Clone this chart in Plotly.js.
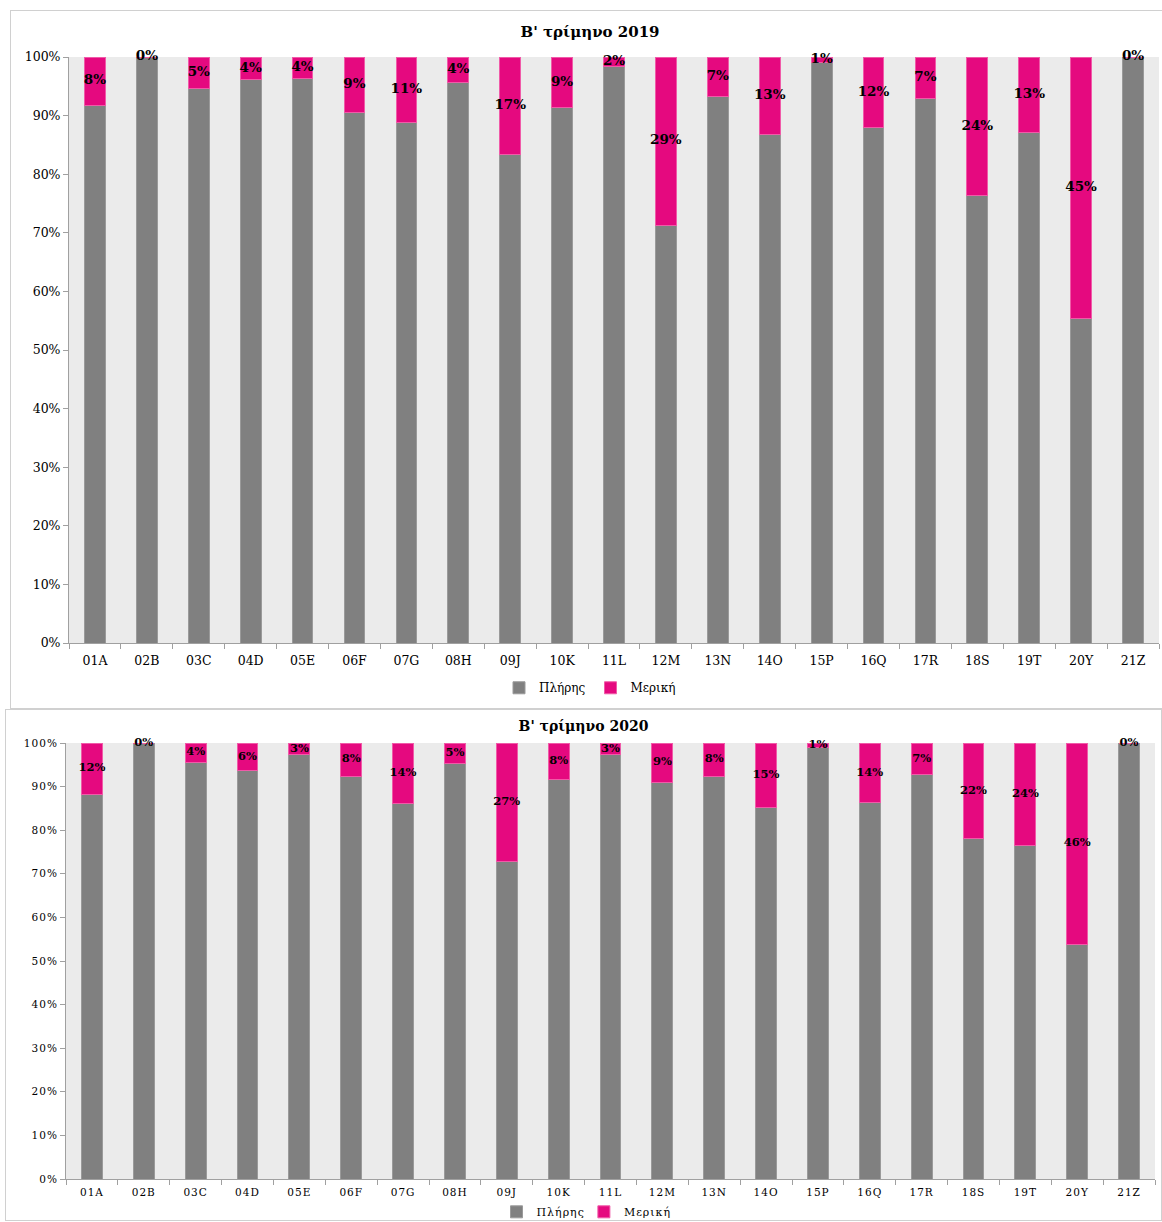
<!DOCTYPE html>
<html>
<head>
<meta charset="utf-8">
<script src="https://cdn.plot.ly/plotly-3.0.1.min.js"></script>
<style>
  html, body { margin:0; padding:0; background:#fff; }
  #c1 { position:absolute; left:10px; top:10px; width:1160px; height:699px; border:1px solid #d0d0d0; box-sizing:border-box; }
  #c2 { position:absolute; left:5px; top:709px; width:1157px; height:512px; border:1px solid #d0d0d0; box-sizing:border-box; }
  #c2 .xtick text, #c2 .ytick text, #c2 .legendtext { letter-spacing: 1px; }
</style>
</head>
<body>
<div id="c1"></div>
<div id="c2"></div>
<script>
// ---- Data ----
const categories = ["01A","02B","03C","04D","05E","06F","07G","08H","09J","10K","11L","12M","13N","14O","15P","16Q","17R","18S","19T","20Y","21Z"];

const full2019    = [91.8,100,94.6,96.2,96.4,90.6,88.9,95.6,83.4,91.4,98.3,71.3,93.3,86.7,99.0,87.9,93.0,76.3,87.2,55.3,100];
const partial2019 = [8.2,0,5.4,3.8,3.6,9.4,11.1,4.4,16.6,8.6,1.7,28.7,6.7,13.3,1.0,12.1,7.0,23.7,12.8,44.7,0];

const full2020    = [88.3,100,95.6,93.6,97.3,92.4,86.2,95.2,72.9,91.7,97.3,91.0,92.4,85.3,99.0,86.4,92.7,78.0,76.4,53.9,100];
const partial2020 = [11.7,0,4.4,6.4,2.7,7.6,13.8,4.8,27.1,8.3,2.7,9.0,7.6,14.7,1.0,13.6,7.3,22.0,23.6,46.1,0];

const seriesNames = ["Πλήρης","Μερική"];
const titles = ["Β' τρίμηνο 2019","Β' τρίμηνο 2020"];
const yTicks = [0,10,20,30,40,50,60,70,80,90,100];
const yTickLabels = ["0%","10%","20%","30%","40%","50%","60%","70%","80%","90%","100%"];

const GRAY = "#808080", MAG = "#e5097f";
const SERIF = "DejaVu Serif, Liberation Serif, serif";

function makeChart(div, full, partial, title, opts) {
  const traces = [
    {type:"bar", name:seriesNames[0], x:categories, y:full, marker:{color:GRAY, line:{color:"#9a9a9a", width:1}}, hoverinfo:"skip"},
    {type:"bar", name:seriesNames[1], x:categories, y:partial, marker:{color:MAG, line:{color:"#f05aa8", width:1}}, hoverinfo:"skip"},
    {type:"scatter", mode:"text", x:categories, y:full.map((f,i)=>f+partial[i]/2),
     text:partial.map(p=>Math.round(p)+"%"), textposition:"middle center",
     textfont:{family:SERIF, size:opts.labelSize, color:"#000", weight:"bold"},
     showlegend:false, hoverinfo:"skip", cliponaxis:false}
  ];
  const layout = {
    width:opts.w, height:opts.h,
    margin:{l:opts.l, r:opts.r, t:opts.t, b:opts.b},
    paper_bgcolor:"rgba(0,0,0,0)", plot_bgcolor:"#ebebeb",
    barmode:"stack", bargap:0.6,
    title:{text:"<b>"+title+"</b>", x:0.5, xref:"container", y:opts.titleY, yref:"container", yanchor:"middle",
           font:{family:SERIF, size:opts.titleSize, color:"#000"}},
    xaxis:{type:"category", range:[-0.5, categories.length-0.5], autorange:false,
           showgrid:false, zeroline:false, showline:true, linecolor:"#a0a0a0", linewidth:1,
           ticks:"outside", tickson:"boundaries", ticklen:5, tickcolor:"#a0a0a0", automargin:false,
           ticklabelstandoff:opts.xStand,
           tickfont:{family:SERIF, size:opts.tickSize, color:"#000"}},
    yaxis:{range:[0,100], autorange:false, tickmode:"array", tickvals:yTicks, ticktext:yTickLabels, showgrid:false, zeroline:false,
           showline:true, linecolor:"#a0a0a0", linewidth:1, ticks:"outside", ticklen:5, tickcolor:"#a0a0a0", automargin:false,
           tickfont:{family:SERIF, size:opts.tickSize, color:"#000"}},
    showlegend:true,
    legend:{orientation:"h", x:0.5, xref:"container", xanchor:"center", y:opts.legY, yref:"container", yanchor:"middle",
            font:{family:SERIF, size:opts.legSize, color:"#000"}, itemwidth:30, tracegroupgap:0,
            traceorder:"normal", itemclick:false},
    hovermode:false
  };
  Plotly.newPlot(div, traces, layout, {displayModeBar:false, staticPlot:true});
}

makeChart("c1", full2019, partial2019, titles[0],
  {w:1158, h:697, l:58, r:10, t:46, b:65, titleY:0.97, titleSize:15, tickSize:12.5, labelSize:13.5, legSize:12, legY:0.029, xStand:6});
makeChart("c2", full2020, partial2020, titles[1],
  {w:1155, h:510, l:60, r:6, t:33, b:41, titleY:0.968, titleSize:14, tickSize:10.5, labelSize:11.5, legSize:11, legY:0.016, xStand:3});
</script>
</body>
</html>
